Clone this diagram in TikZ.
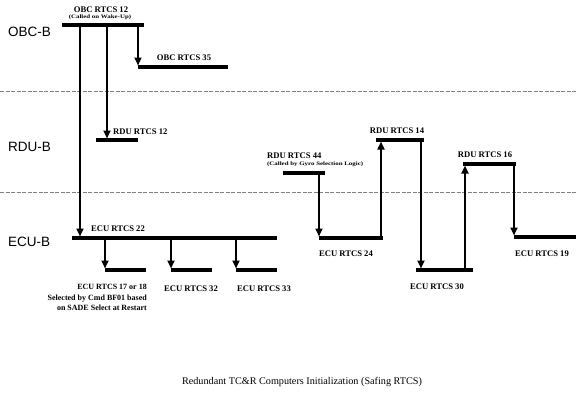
\documentclass[tikz,border=0pt]{standalone}
\usepackage{fontspec}
\setmainfont{Liberation Serif}
\setsansfont{Liberation Sans}
\usetikzlibrary{arrows.meta}
\newcommand{\widesub}[1]{\scalebox{1.3}[1]{#1}}
\begin{document}
\begin{tikzpicture}[x=1pt,y=-1pt,
  bar/.style={line width=4.5pt},
  link/.style={line width=2.7pt,-{Triangle[width=7pt,length=8pt]},shorten >=1.5pt},
  lane/.style={font=\sffamily\fontsize{13.5}{15}\selectfont,anchor=west,inner sep=0pt},
  lbl/.style={font=\bfseries\fontsize{8.6}{9}\selectfont,inner sep=0pt},
  sub/.style={font=\bfseries\fontsize{5.3}{6}\selectfont,inner sep=0pt},
  note/.style={font=\bfseries\fontsize{8}{10.5}\selectfont,inner sep=0pt,align=right,anchor=north east},
  sep/.style={gray,line width=0.6pt,dash pattern=on 4pt off 1.5pt}]
\useasboundingbox (0,0) rectangle (576,397);

% lanes
\node[lane] (obcB) at (8,32) {OBC-B};
\node[lane] (rduB) at (8,147) {RDU-B};
\node[lane] (ecuB) at (8,242) {ECU-B};
\coordinate (s1a) at (0,91);  \coordinate (s1b) at (576,91);
\coordinate (s2a) at (0,192); \coordinate (s2b) at (576,192);
\draw[sep] (s1a) -- (s1b);
\draw[sep] (s2a) -- (s2b);

% OBC RTCS 12
\coordinate (obcL) at (62,25); \coordinate (obcR) at (144,25);
\draw[bar] (obcL) -- (obcR);
\node[lbl] (t12) at (101,10) {OBC RTCS 12};
\node[sub] (t12s) at (100,17.5) {\widesub{(Called on Wake-Up)}};

% OBC RTCS 35
\coordinate (o35a) at (138,25); \coordinate (o35L) at (138,67); \coordinate (o35R) at (228,67);
\draw[bar] (o35L) -- (o35R);
\draw[link] (o35a) -- (o35L);
\node[lbl] (t35) at (184,58) {OBC RTCS 35};

% RDU RTCS 12
\coordinate (r12a) at (107,25); \coordinate (r12j) at (107,140);
\coordinate (r12L) at (96,140); \coordinate (r12R) at (138,140);
\draw[bar] (r12L) -- (r12R);
\draw[link] (r12a) -- (r12j);
\node[lbl,anchor=west] (tr12) at (113,132) {RDU RTCS 12};

% ECU RTCS 22
\coordinate (e22a) at (80,25); \coordinate (e22j) at (80,238);
\coordinate (e22L) at (72,238); \coordinate (e22R) at (277,238);
\draw[bar] (e22L) -- (e22R);
\draw[link] (e22a) -- (e22j);
\node[lbl] (te22) at (118,229) {ECU RTCS 22};

% ECU sub branches
\foreach \x/\n in {105/a,171/b,236/c}{
  \coordinate (b\n0) at (\x,238);
  \coordinate (b\n1) at (\x,270);
  \coordinate (b\n2) at (\x+41,270);
  \draw[bar] (b\n1) -- (b\n2);
  \draw[link] (b\n0) -- (b\n1);
}
\node[note] (t17) at (147,284) {ECU RTCS 17 or 18\\Selected by Cmd BF01 based\\on SADE Select at Restart};
\node[lbl] (t32) at (191,289) {ECU RTCS 32};
\node[lbl] (t33) at (264,289) {ECU RTCS 33};

% RDU RTCS 44 -> ECU 24 -> RDU 14 -> ECU 30 -> RDU 16 -> ECU 19
\coordinate (r44L) at (283,173); \coordinate (r44R) at (325,173);
\coordinate (r44j) at (319,173);
\draw[bar] (r44L) -- (r44R);
\node[lbl,anchor=west] (tr44) at (267,156) {RDU RTCS 44};
\node[sub,anchor=west] (tr44s) at (267,164) {\widesub{(Called by Gyro Selection Logic)}};

\coordinate (e24L) at (319,238); \coordinate (e24R) at (383,238);
\draw[bar] (e24L) -- (e24R);
\draw[link] (r44j) -- (e24L);
\node[lbl] (te24) at (346,254) {ECU RTCS 24};

\coordinate (u14a) at (381,238); \coordinate (u14b) at (381,140);
\coordinate (r14L) at (376,140); \coordinate (r14R) at (424,140);
\draw[bar] (r14L) -- (r14R);
\draw[link] (u14a) -- (u14b);
\node[lbl] (tr14) at (397,131) {RDU RTCS 14};

\coordinate (d30a) at (421,140); \coordinate (d30b) at (421,270);
\coordinate (e30L) at (416,270); \coordinate (e30R) at (473,270);
\draw[bar] (e30L) -- (e30R);
\draw[link] (d30a) -- (d30b);
\node[lbl] (te30) at (437,287) {ECU RTCS 30};

\coordinate (u16a) at (465,270); \coordinate (u16b) at (465,164);
\coordinate (r16L) at (463,164); \coordinate (r16R) at (516,164);
\draw[bar] (r16L) -- (r16R);
\draw[link] (u16a) -- (u16b);
\node[lbl] (tr16) at (485,155) {RDU RTCS 16};

\coordinate (d19a) at (514,164); \coordinate (d19b) at (514,237);
\coordinate (e19R) at (576,237);
\draw[bar] (d19b) -- (e19R);
\draw[link] (d19a) -- (d19b);
\node[lbl] (te19) at (542,254) {ECU RTCS 19};

% caption
\node[font=\fontsize{10.2}{12}\selectfont,inner sep=0pt] (cap) at (302,382) {Redundant TC\&R Computers Initialization (Safing RTCS)};
\end{tikzpicture}
\end{document}
